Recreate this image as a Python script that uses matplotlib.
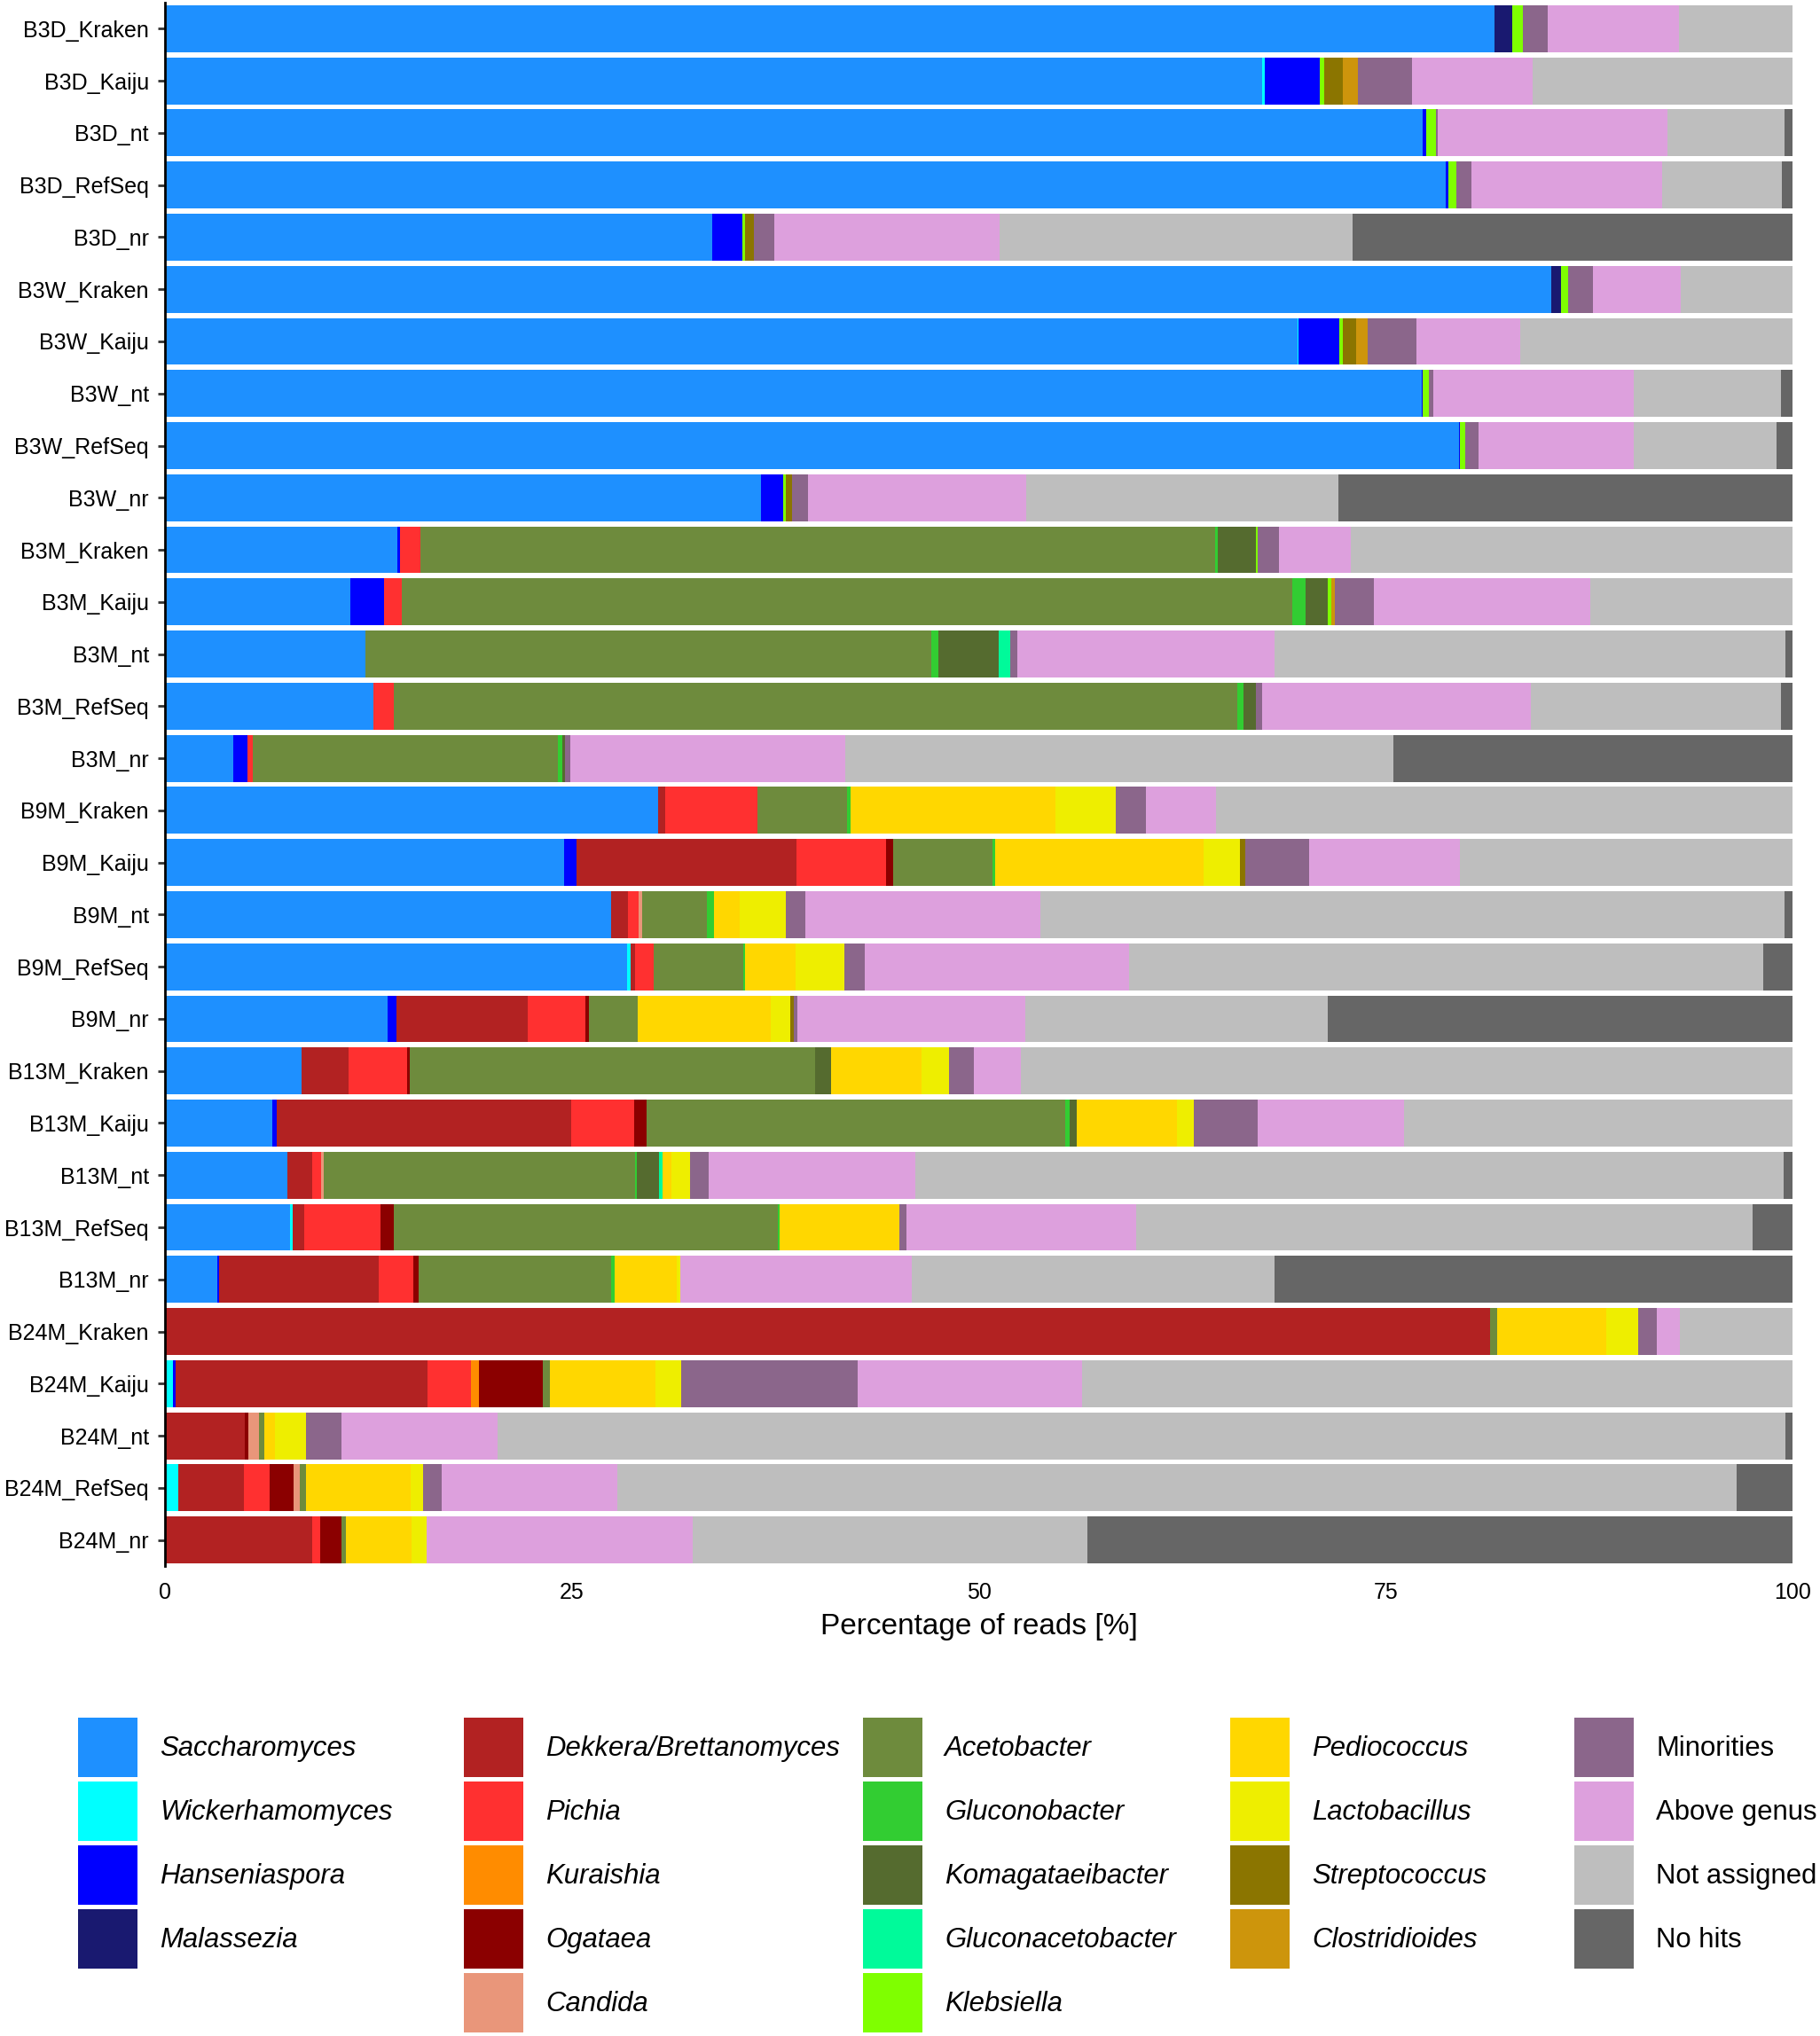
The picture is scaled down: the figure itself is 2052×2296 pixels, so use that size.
import numpy as np
import matplotlib
matplotlib.use("Agg")
import matplotlib.pyplot as plt
from matplotlib.patches import Rectangle

plt.rcParams['font.family'] = ['Liberation Sans', 'DejaVu Sans']

# samples, top to bottom
samples = ["B3D_Kraken", "B3D_Kaiju", "B3D_nt", "B3D_RefSeq", "B3D_nr",
           "B3W_Kraken", "B3W_Kaiju", "B3W_nt", "B3W_RefSeq", "B3W_nr",
           "B3M_Kraken", "B3M_Kaiju", "B3M_nt", "B3M_RefSeq", "B3M_nr",
           "B9M_Kraken", "B9M_Kaiju", "B9M_nt", "B9M_RefSeq", "B9M_nr",
           "B13M_Kraken", "B13M_Kaiju", "B13M_nt", "B13M_RefSeq", "B13M_nr",
           "B24M_Kraken", "B24M_Kaiju", "B24M_nt", "B24M_RefSeq", "B24M_nr"]

# percentage of reads per genus, same order as samples
saccharomyces = [81.7, 67.4, 77.3, 78.7, 33.6, 85.15, 69.6, 77.2, 79.5, 36.6,
                 14.3, 11.4, 12.3, 12.8, 4.2, 30.3, 24.5, 27.4, 28.4, 13.7,
                 8.4, 6.57, 7.5, 7.7, 3.2, 0, 0, 0, 0, 0]
wickerhamomyces = [0, 0.2, 0, 0, 0, 0, 0.07, 0, 0, 0,
                   0, 0, 0, 0, 0, 0, 0, 0, 0.2, 0,
                   0, 0, 0, 0.14, 0, 0, 0.5, 0, 0.8, 0]
hanseniaspora = [0, 3.35, 0.2, 0.15, 1.86, 0, 2.5, 0.07, 0.07, 1.36,
                 0.14, 2.07, 0, 0, 0.86, 0, 0.8, 0, 0, 0.5,
                 0, 0.28, 0, 0, 0.14, 0, 0.15, 0, 0, 0]
malassezia = [1.07, 0, 0, 0, 0, 0.64, 0, 0, 0, 0,
              0, 0, 0, 0, 0, 0, 0, 0, 0, 0,
              0, 0, 0, 0, 0, 0, 0, 0, 0, 0]
dekkera = [0, 0, 0, 0, 0, 0, 0, 0, 0, 0,
           0, 0, 0, 0, 0, 0.43, 13.5, 1.07, 0.28, 8.07,
           2.86, 18.1, 1.57, 0.7, 9.8, 81.4, 15.5, 4.9, 4.04, 9.07]
pichia = [0, 0, 0, 0, 0, 0, 0, 0, 0, 0,
          1.28, 1.07, 0, 1.28, 0.36, 5.7, 5.5, 0.64, 1.14, 3.57,
          3.64, 3.86, 0.5, 4.7, 2.14, 0, 2.65, 0, 1.58, 0.49]
kuraishia = [0, 0, 0, 0, 0, 0, 0, 0, 0, 0,
             0, 0, 0, 0, 0, 0, 0, 0, 0, 0,
             0, 0, 0, 0, 0, 0, 0.5, 0, 0, 0]
ogataea = [0, 0, 0, 0, 0, 0, 0, 0, 0, 0,
           0, 0, 0, 0, 0, 0, 0.43, 0, 0, 0.2,
           0.14, 0.8, 0, 0.8, 0.28, 0, 3.9, 0.2, 1.46, 1.31]
candida = [0, 0, 0, 0, 0, 0, 0, 0, 0, 0,
           0, 0, 0, 0, 0, 0, 0, 0.2, 0, 0,
           0, 0, 0.2, 0, 0, 0, 0, 0.68, 0.39, 0]
acetobacter = [0, 0, 0, 0, 0, 0, 0, 0, 0, 0,
               48.8, 54.7, 34.8, 51.8, 18.7, 5.5, 6.1, 4.0, 5.5, 3.0,
               24.9, 25.7, 19.1, 23.6, 11.85, 0.43, 0.44, 0.3, 0.39, 0.22]
gluconobacter = [0, 0, 0, 0, 0, 0, 0, 0, 0, 0,
                 0.14, 0.86, 0.43, 0.36, 0.28, 0.2, 0.2, 0.43, 0.14, 0,
                 0, 0.28, 0.14, 0.14, 0.2, 0, 0, 0, 0, 0]
komagataeibacter = [0, 0, 0, 0, 0, 0, 0, 0, 0, 0,
                    2.36, 1.36, 3.7, 0.8, 0.2, 0, 0, 0, 0, 0,
                    1.0, 0.43, 1.36, 0, 0, 0, 0, 0, 0, 0]
gluconacetobacter = [0, 0, 0, 0, 0, 0, 0, 0, 0, 0,
                     0, 0, 0.7, 0, 0, 0, 0, 0, 0, 0,
                     0, 0, 0.2, 0, 0, 0, 0, 0, 0, 0]
klebsiella = [0.64, 0.3, 0.57, 0.5, 0.2, 0.43, 0.2, 0.36, 0.3, 0.2,
              0.14, 0.2, 0, 0, 0, 0, 0, 0, 0, 0,
              0, 0, 0, 0, 0, 0, 0, 0, 0, 0]
pediococcus = [0, 0, 0, 0, 0, 0, 0, 0, 0, 0,
               0, 0, 0, 0, 0, 12.6, 12.8, 1.57, 3.07, 8.2,
               5.57, 6.14, 0.57, 7.35, 3.86, 6.7, 6.5, 0.66, 6.42, 4.06]
lactobacillus = [0, 0, 0, 0, 0, 0, 0, 0, 0, 0,
                 0, 0, 0, 0, 0, 3.7, 2.2, 2.86, 3.0, 1.2,
                 1.64, 1.07, 1.14, 0, 0.2, 2.0, 1.57, 1.92, 0.8, 0.9]
streptococcus = [0, 1.14, 0, 0, 0.5, 0, 0.8, 0, 0, 0.36,
                 0, 0, 0, 0, 0, 0, 0.36, 0, 0, 0.2,
                 0, 0, 0, 0, 0, 0, 0, 0, 0, 0]
clostridioides = [0, 0.93, 0, 0, 0, 0, 0.7, 0, 0, 0,
                  0, 0.2, 0, 0, 0, 0, 0, 0, 0, 0,
                  0, 0, 0, 0, 0, 0, 0, 0, 0, 0]
minorities = [1.57, 3.3, 0.15, 0.93, 1.28, 1.5, 3.0, 0.28, 0.85, 1.0,
              1.28, 2.43, 0.43, 0.36, 0.28, 1.86, 3.9, 1.2, 1.28, 0.2,
              1.57, 3.9, 1.14, 0.43, 0, 1.14, 10.85, 2.2, 1.1, 0]
above_genus = [8.07, 7.4, 14.1, 11.7, 13.85, 5.42, 6.4, 12.35, 9.55, 13.4,
               4.43, 13.3, 15.8, 16.5, 16.9, 4.3, 9.3, 14.4, 16.2, 14.0,
               2.86, 9.0, 12.7, 14.1, 14.2, 1.43, 13.8, 9.6, 10.8, 16.35]
not_assigned = [6.95, 15.98, 7.18, 7.38, 21.7, 6.86, 16.73, 9.04, 8.73, 19.2,
                27.13, 12.41, 31.41, 15.4, 33.7, 35.41, 20.41, 45.73, 38.99, 18.6,
                47.42, 23.87, 53.31, 37.91, 22.3, 6.9, 43.64, 79.1, 68.79, 24.3]
no_hits = [0, 0, 0.5, 0.64, 27.01, 0, 0, 0.7, 1.0, 27.88,
           0, 0, 0.43, 0.7, 24.52, 0, 0, 0.5, 1.8, 28.56,
           0, 0, 0.57, 2.43, 31.83, 0, 0, 0.44, 3.43, 43.3]

# (label, values, colour, italic)
groups = [
    ("Saccharomyces", saccharomyces, "#1E90FF", True),
    ("Wickerhamomyces", wickerhamomyces, "#00FFFF", True),
    ("Hanseniaspora", hanseniaspora, "#0000FF", True),
    ("Malassezia", malassezia, "#191970", True),
    ("Dekkera/Brettanomyces", dekkera, "#B22222", True),
    ("Pichia", pichia, "#FF3030", True),
    ("Kuraishia", kuraishia, "#FF8C00", True),
    ("Ogataea", ogataea, "#8B0000", True),
    ("Candida", candida, "#E9967A", True),
    ("Acetobacter", acetobacter, "#6E8B3D", True),
    ("Gluconobacter", gluconobacter, "#32CD32", True),
    ("Komagataeibacter", komagataeibacter, "#556B2F", True),
    ("Gluconacetobacter", gluconacetobacter, "#00FA9A", True),
    ("Klebsiella", klebsiella, "#7FFF00", True),
    ("Pediococcus", pediococcus, "#FFD700", True),
    ("Lactobacillus", lactobacillus, "#EEEE00", True),
    ("Streptococcus", streptococcus, "#8B7500", True),
    ("Clostridioides", clostridioides, "#CD950C", True),
    ("Minorities", minorities, "#8B668B", False),
    ("Above genus", above_genus, "#DDA0DD", False),
    ("Not assigned", not_assigned, "#BEBEBE", False),
    ("No hits", no_hits, "#666666", False),
]

W, H = 2052, 2296
fig = plt.figure(figsize=(W / 200, H / 200), dpi=200)
ax = fig.add_axes([186 / W, 1 - 1766 / H, (2021 - 186) / W, 1763 / H])

y = np.arange(len(samples))
left = np.zeros(len(samples))
for name, vals, col, _ in groups:
    vals = np.array(vals, dtype=float)
    ax.barh(y, vals, left=left, height=0.9, color=col, linewidth=0)
    left += vals

ax.set_ylim(len(samples) - 0.5, -0.5)
ax.set_xlim(0, 100)
ax.set_yticks(y)
ax.set_yticklabels(samples, fontsize=9)
ax.set_xticks([0, 25, 50, 75, 100])
ax.set_xticklabels(["0", "25", "50", "75", "100"], fontsize=9)
ax.tick_params(axis="x", length=0, pad=6.5)
ax.tick_params(axis="y", length=3, width=1, color="#333333", pad=3.5)
ax.set_xlabel("Percentage of reads [%]", fontsize=12, labelpad=3.8)
for s in ["top", "right", "bottom"]:
    ax.spines[s].set_visible(False)
ax.spines["left"].set_linewidth(1.0)

# legend drawn by hand in five columns
col_sizes = [4, 5, 5, 4, 4]
col_x = [88, 523, 973, 1387, 1775]
key = 66.5
row_pitch = 72
top0 = 1937
i = 0
for c, n in enumerate(col_sizes):
    for r in range(n):
        name, _, col, italic = groups[i]
        ky = top0 + r * row_pitch
        fig.patches.append(Rectangle((col_x[c] / W, 1 - (ky + key) / H), key / W, key / H,
                                     transform=fig.transFigure, color=col, linewidth=0))
        fig.text((col_x[c] + 92) / W, 1 - (ky + key / 2 + 2) / H, name, fontsize=11.2,
                 style="italic" if italic else "normal", va="center", ha="left")
        i += 1

fig.savefig("out.png", dpi=200, facecolor="white")
